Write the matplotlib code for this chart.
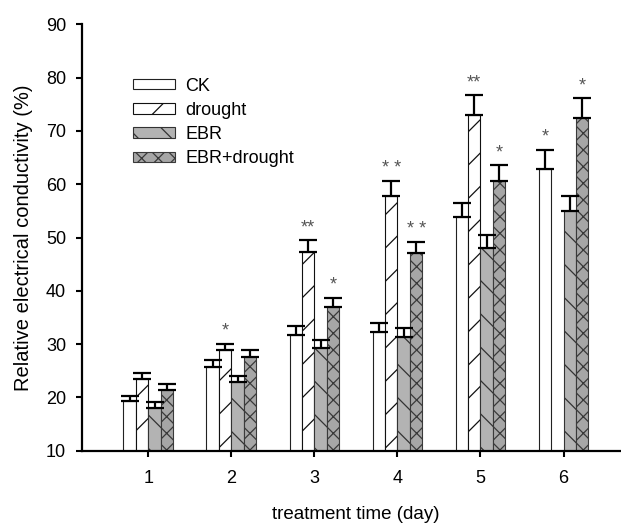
import numpy as np
import matplotlib
matplotlib.use("Agg")
import matplotlib.pyplot as plt

plt.rcParams['font.family'] = ['Liberation Sans', 'DejaVu Sans']
plt.rcParams['hatch.linewidth'] = 0.9

days = [1, 2, 3, 4, 5, 6]
series_names = ["CK", "drought", "EBR", "EBR+drought"]
ck = [19.3, 25.7, 31.7, 32.2, 53.8, 62.9]
ck_err = [1.0, 1.3, 1.7, 1.7, 2.7, 3.6]
drought = [23.4, 28.8, 47.3, 57.7, 72.9, np.nan]
drought_err = [1.2, 1.3, 2.2, 2.9, 3.8, np.nan]
ebr = [18.1, 22.9, 29.2, 31.4, 48.0, 54.9]
ebr_err = [1.0, 1.1, 1.6, 1.6, 2.5, 2.9]
ebrd = [21.4, 27.5, 36.9, 47.0, 60.6, 72.5]
ebrd_err = [1.1, 1.4, 1.8, 2.2, 3.0, 3.6]
ck_sig = ["", "", "", "", "", "*"]
drought_sig = ["", "*", "**", "* *", "**", ""]
ebr_sig = ["", "", "", "", "", ""]
ebrd_sig = ["", "", "*", "* *", "*", "*"]
yticks = [10, 20, 30, 40, 50, 60, 70, 80, 90]

values = [ck, drought, ebr, ebrd]
errors = [ck_err, drought_err, ebr_err, ebrd_err]
sigs = [ck_sig, drought_sig, ebr_sig, ebrd_sig]
faces = ["white", "white", "#b3b3b3", "#a6a6a6"]
edges = ["#222222", "#111111", "#333333", "#3a3a3a"]
hatches = ["", "/", "\\", "xx"]

FS = 13

fig = plt.figure(figsize=(6.21, 5.27), dpi=100)
ax = fig.add_axes([81.5 / 621, 1 - 450.7 / 527, (620 - 81.5) / 621, (450.7 - 24.3) / 527])

w = 0.15
x = np.array(days, dtype=float)
for i in range(4):
    xi = x + (i - 1.5) * w
    v = np.array(values[i], dtype=float)
    e = np.array(errors[i], dtype=float)
    ax.bar(xi, v, width=w, color=faces[i], edgecolor=edges[i], hatch=hatches[i],
           linewidth=0.8, label=series_names[i], zorder=2)
    ok = ~np.isnan(v)
    ax.errorbar(xi[ok], v[ok], yerr=[np.zeros(ok.sum()), e[ok]], fmt='none',
                ecolor='black', elinewidth=1.6, capsize=6.5, capthick=1.6, zorder=3)
    for j in range(len(days)):
        if sigs[i][j] and ok[j]:
            ax.annotate(sigs[i][j], (xi[j], v[j] + e[j]), xytext=(0, 9),
                        textcoords='offset points', ha='center', va='center',
                        fontsize=13, color='#555555')

ax.set_xlim(0.195, 6.68)
ax.set_ylim(10, 90)
ax.set_yticks(yticks)
ax.set_xticks(days)
for s in ['top', 'right']:
    ax.spines[s].set_visible(False)
for s in ['left', 'bottom']:
    ax.spines[s].set_linewidth(1.6)
ax.tick_params(axis='both', direction='out', length=4, width=1.5, labelsize=FS)
ax.tick_params(axis='x', pad=10)
ax.tick_params(axis='y', pad=7)

ax.set_xlabel("treatment time (day)", fontsize=13.5)
ax.xaxis.set_label_coords(0.509, -0.13)
ax.set_ylabel("Relative electrical conductivity (%)", fontsize=14.5)
ax.yaxis.set_label_coords(-0.09, 0.5)

leg = ax.legend(loc='upper left', bbox_to_anchor=(0.095, 0.875), frameon=False,
                fontsize=FS, handlelength=2.35, handleheight=0.5,
                handletextpad=0.55, labelspacing=0.4, borderpad=0, borderaxespad=0)

fig.savefig("out.png", dpi=100)
